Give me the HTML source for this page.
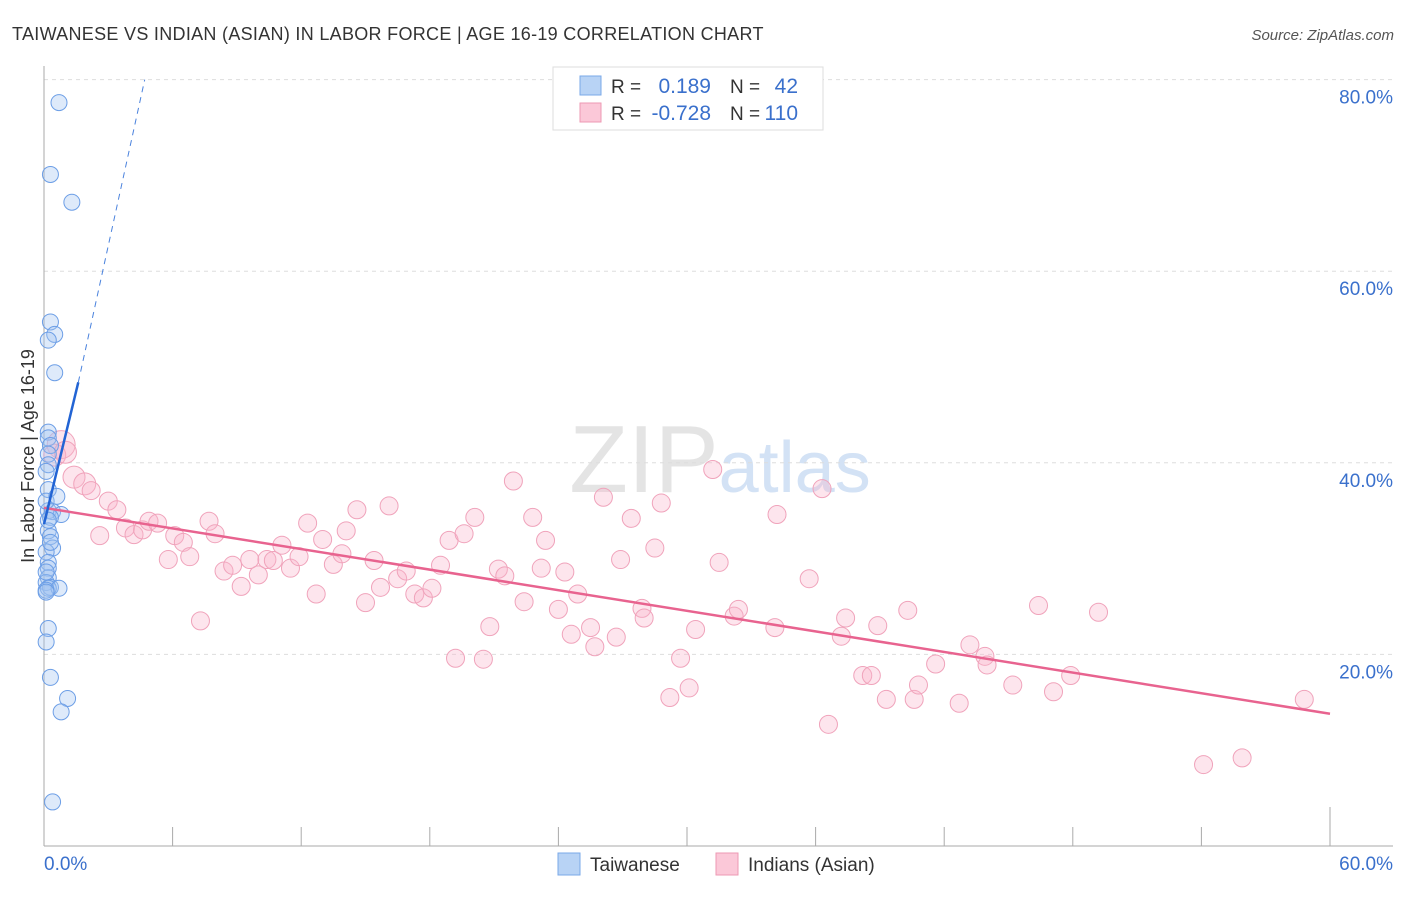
<!DOCTYPE html>
<html><head><meta charset="utf-8"><style>
body{margin:0;background:#fff;font-family:"Liberation Sans",sans-serif;}
svg text{font-family:"Liberation Sans",sans-serif;}
</style></head><body>
<svg width="1406" height="892" xmlns="http://www.w3.org/2000/svg" id="chart">
<text x="12" y="40" font-size="18" fill="#333" letter-spacing="0.3">TAIWANESE VS INDIAN (ASIAN) IN LABOR FORCE | AGE 16-19 CORRELATION CHART</text>
<text x="1394" y="40" font-size="15" fill="#555" font-style="italic" text-anchor="end">Source: ZipAtlas.com</text>
<text x="720" y="492" font-size="96" fill="#e4e4e4" text-anchor="middle" font-family="Liberation Serif">ZIP<tspan fill="#d3e2f5" font-family="Liberation Sans" font-size="72">atlas</tspan></text>
<g id="grid"></g>
<g id="axes"></g>
<g id="pts"></g>
<g id="lines"></g>
<text transform="translate(34,456) rotate(-90)" font-size="18" fill="#333" text-anchor="middle">In Labor Force | Age 16-19</text>
<g>
<rect x="553" y="67" width="270" height="63" fill="#fff" stroke="#ddd"/>
<rect x="580" y="76" width="21" height="19" fill="#b8d3f5" stroke="#7aa8e8"/>
<rect x="580" y="103" width="21" height="19" fill="#fbc8d8" stroke="#ee99b3"/>
<text x="611" y="93" font-size="19" fill="#333">R =</text>
<text x="711" y="93" font-size="21" fill="#3a70cc" text-anchor="end">0.189</text>
<text x="730" y="93" font-size="19" fill="#333">N =</text>
<text x="798" y="93" font-size="21" fill="#3a70cc" text-anchor="end">42</text>
<text x="611" y="120" font-size="19" fill="#333">R =</text>
<text x="711" y="120" font-size="21" fill="#3a70cc" text-anchor="end">-0.728</text>
<text x="730" y="120" font-size="19" fill="#333">N =</text>
<text x="798" y="120" font-size="21" fill="#3a70cc" text-anchor="end">110</text>
</g>
<g>
<rect x="558" y="853" width="22" height="22" fill="#b8d3f5" stroke="#7aa8e8"/>
<text x="590" y="871" font-size="19" fill="#333">Taiwanese</text>
<rect x="716" y="853" width="22" height="22" fill="#fbc8d8" stroke="#ee99b3"/>
<text x="748" y="871" font-size="19" fill="#333">Indians (Asian)</text>
</g>
</svg>
<script>
const yTicks=[20,40,60,80];
const xTickLabels=["0.0%","60.0%"];
const blueX=[0.7,0.3,1.3,0.3,0.5,0.2,0.5,0.2,0.2,0.3,0.2,0.2,0.2,0.2,0.4,0.8,0.3,0.2,0.3,0.4,0.1,0.2,0.2,0.2,0.1,0.3,0.2,0.7,0.1,0.2,0.1,0.3,1.1,0.8,0.4,0.1,0.1,0.2,0.1,0.1,0.3,0.6];
const blueY=[77.6,70.1,67.2,54.7,53.4,52.8,49.4,43.2,42.6,41.8,40.9,39.8,37.2,35.0,34.9,34.6,34.3,32.9,32.3,31.1,30.7,29.6,29.0,28.0,27.5,27.0,26.9,26.9,26.7,22.7,21.3,17.6,15.4,14.0,4.6,39.1,36.0,34.0,28.6,26.5,31.7,36.5];
const pinkX=[0.8,0.5,1.0,1.4,1.9,2.2,3.0,3.4,2.6,3.8,4.2,4.6,4.9,5.3,5.8,6.1,6.5,6.8,7.3,7.7,7.980,8.4,8.8,9.2,9.6,10.0,10.4,10.7,11.1,11.5,11.9,12.3,12.7,13.0,13.5,14.1,13.9,14.6,15.0,15.4,15.7,16.1,16.5,16.9,17.3,17.7,18.1,18.5,18.9,19.2,19.6,20.1,20.5,20.8,21.2,21.5,21.9,22.4,22.8,23.2,23.4,24.0,24.3,24.6,24.9,25.5,25.7,26.1,26.7,26.9,27.4,27.9,28.0,28.5,28.8,29.2,29.7,30.1,30.4,31.2,31.5,32.2,32.4,34.1,34.2,35.7,36.3,36.6,37.2,37.4,38.2,38.6,38.9,39.3,40.3,40.6,40.8,41.6,42.7,43.2,43.9,44.0,45.2,46.4,47.1,47.9,49.2,54.1,55.9,58.8];
const pinkY=[41.9,40.8,41.1,38.5,37.8,37.1,36.0,35.1,32.4,33.2,32.5,33.0,33.9,33.7,29.9,32.4,31.7,30.2,23.5,33.9,32.6,28.7,29.3,27.1,29.9,28.3,29.9,29.8,31.4,29.0,30.2,33.7,26.3,32.0,29.4,32.9,30.5,35.1,25.4,29.8,27.0,35.5,27.9,28.7,26.3,25.9,26.9,29.3,31.9,19.6,32.6,34.3,19.5,22.9,28.9,28.2,38.1,25.5,34.3,29.0,31.9,24.7,28.6,22.1,26.3,22.8,20.8,36.4,21.8,29.9,34.2,24.8,23.8,31.1,35.8,15.5,19.6,16.5,22.6,39.3,29.6,24.0,24.7,22.8,34.6,27.9,37.3,12.7,21.9,23.8,17.8,17.8,23.0,15.3,24.6,15.3,16.8,19.0,14.9,21.0,19.8,18.9,16.8,25.1,16.1,17.8,24.4,8.5,9.2,15.3];
const blueLine=[[0,33.6],[1.6,48.4]];
const blueDash=[[1.6,48.4],[4.7,80]];
const pinkLine=[[0,35.3],[60,13.8]];
const X0=44,X1=1330,Y0=846,YS=9.58;
const sx=v=>X0+(X1-X0)*v/60, sy=v=>Y0-v*YS;
const NS="http://www.w3.org/2000/svg";
function mk(tag,attrs,parent){const e=document.createElementNS(NS,tag);for(const k in attrs)e.setAttribute(k,attrs[k]);parent.appendChild(e);return e;}
const grid=document.getElementById('grid'),axes=document.getElementById('axes'),pts=document.getElementById('pts'),lines=document.getElementById('lines');
yTicks.forEach(t=>{
 const l=mk('line',{x1:X0,x2:1393,y1:sy(t),y2:sy(t),stroke:'#ddd','stroke-dasharray':'4,4'},grid);
 
 
 const tx=mk('text',{x:1393,y:sy(t)+24,'font-size':19,fill:'#3a70cc','text-anchor':'end'},axes);
 tx.textContent=t.toFixed(1)+'%';
 
 
});
const ax=mk('line',{x1:X0,x2:X0,y1:66,y2:Y0,stroke:'#aaa'},axes);


const bx=mk('line',{x1:X0,x2:1393,y1:Y0,y2:Y0,stroke:'#aaa'},axes);


for(let i=1;i<=10;i++){
 const t=mk('line',{x1:sx(i*6),x2:sx(i*6),y1:i==10?807:827,y2:Y0,stroke:'#aaa'},axes);
 
 
}
const xl0=mk('text',{x:44,y:870,'font-size':19,fill:'#3a70cc'},axes);xl0.textContent=xTickLabels[0];


const xl1=mk('text',{x:1393,y:870,'font-size':19,fill:'#3a70cc','text-anchor':'end'},axes);xl1.textContent=xTickLabels[1];


pinkX.forEach((v,i)=>{
 const big=i<5?(i==0?14:11):9;
 const c=mk('circle',{cx:sx(v),cy:sy(pinkY[i]),r:big,fill:'rgba(248,180,202,0.35)',stroke:'#f0a3bb','stroke-width':1},pts);
 
 
});
blueX.forEach((v,i)=>{
 const c=mk('circle',{cx:sx(v),cy:sy(blueY[i]),r:8,fill:'rgba(160,195,240,0.35)',stroke:'#6c9ee6','stroke-width':1},pts);
 
 
});
const pl=mk('line',{x1:sx(pinkLine[0][0]),y1:sy(pinkLine[0][1]),x2:sx(pinkLine[1][0]),y2:sy(pinkLine[1][1]),stroke:'#e8638f','stroke-width':2.5},lines);


const bl=mk('line',{x1:sx(blueLine[0][0]),y1:sy(blueLine[0][1]),x2:sx(blueLine[1][0]),y2:sy(blueLine[1][1]),stroke:'#2264d4','stroke-width':2.5},lines);


const bd=mk('line',{x1:sx(blueDash[0][0]),y1:sy(blueDash[0][1]),x2:sx(blueDash[1][0]),y2:sy(blueDash[1][1]),stroke:'#4a82dd','stroke-width':1,'stroke-dasharray':'6,5'},lines);


</script>
</body></html>
